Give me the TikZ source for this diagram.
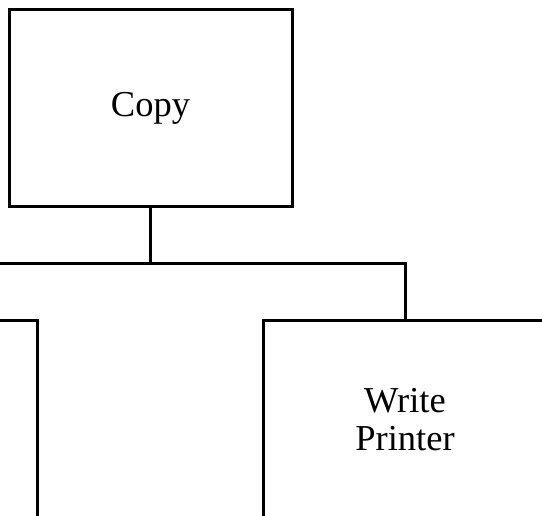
\documentclass[tikz,border=0pt]{standalone}
\usepackage{fontspec}
\setmainfont{Liberation Serif}
\begin{document}
\begin{tikzpicture}[x=1pt,y=1pt,
  box/.style={draw=black, line width=3pt, fill=white, minimum width=283pt, minimum height=197pt, inner sep=0pt, align=center, font=\fontsize{36.5}{38}\selectfont},
  conn/.style={draw=black, line width=3pt, line join=miter}]
\path[use as bounding box, clip] (0,0) rectangle (542,-516);
\fill[white] (0,0) rectangle (542,-516);
\node[box] (copy) at (150.5,-108.5) {\raisebox{-3pt}{Copy}};
\node[box] (left) at (-104.5,-419.5) {};
\node[box] (right) at (405,-419.5) {Write\\Printer};
\coordinate (j) at (copy.south |- 0,-264);
\draw[conn] (copy.south) -- (j);
\draw[conn] (left.north) |- (j) -| (right.north);
\end{tikzpicture}
\end{document}
